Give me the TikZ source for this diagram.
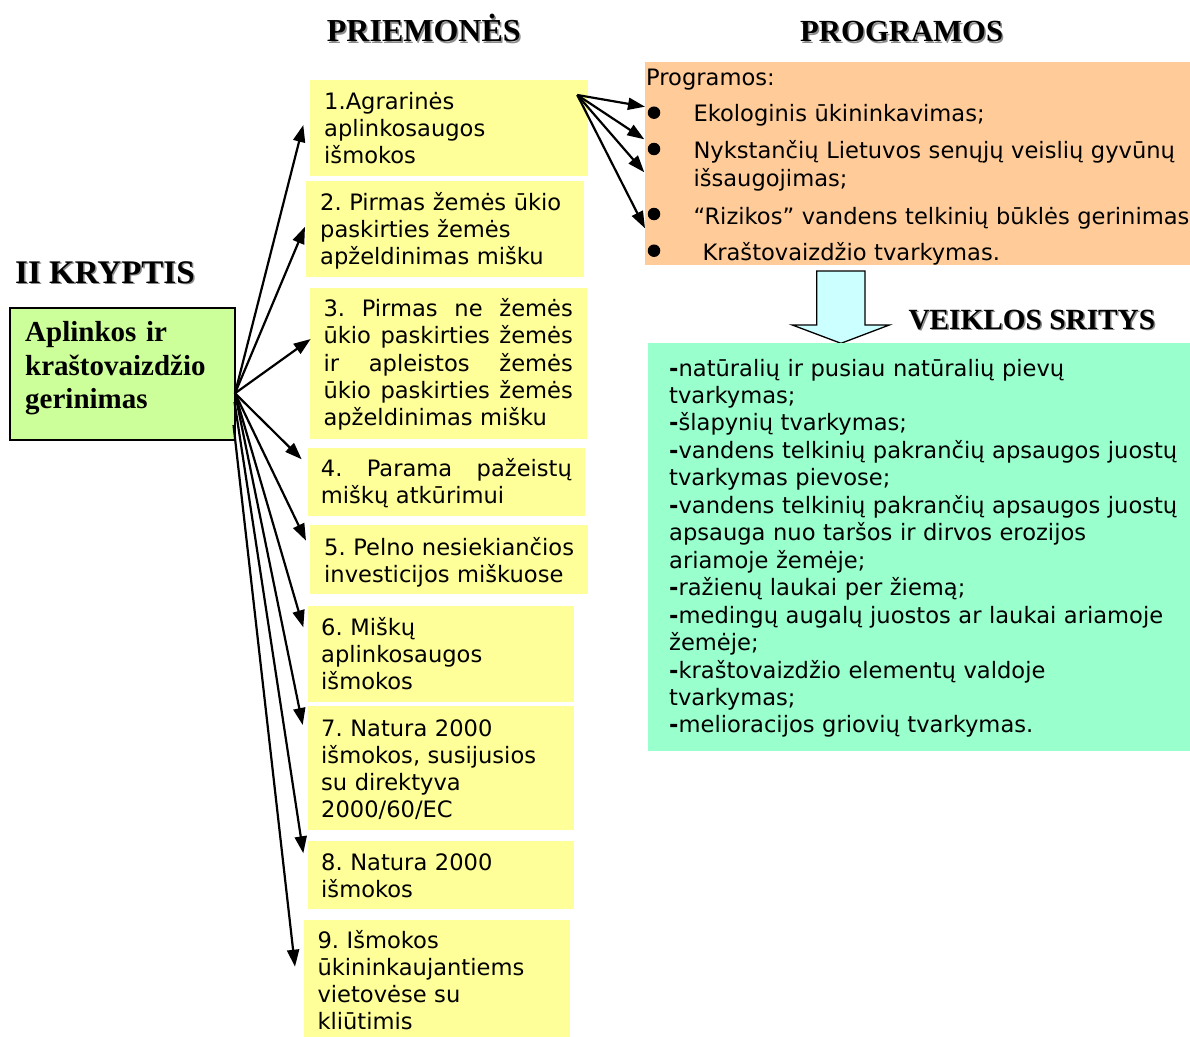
\documentclass[tikz,border=0pt]{standalone}
\usepackage{fontspec}
\setmainfont{DejaVu Sans}[WordSpace=1.1]
\newfontfamily\tnr{Liberation Serif}
\usetikzlibrary{arrows.meta}
\definecolor{yel}{HTML}{FFFF99}
\definecolor{orng}{HTML}{FFCC99}
\definecolor{mint}{HTML}{99FFCC}
\definecolor{lgreen}{HTML}{CCFF99}
\definecolor{lcyan}{HTML}{CCFFFF}
\newcommand{\jl}[2]{\leavevmode\hbox to #1{#2}}
\begin{document}
\frenchspacing
\begin{tikzpicture}[x=1pt,y=-1pt,
  txt/.style={font=\fontsize{22.6}{27.2}\selectfont, inner sep=0pt, anchor=base west, align=left, text width=#1},
  txt/.default=260pt,
  ybox/.style={fill=yel, inner sep=0pt, anchor=north west},
  arr/.style={line width=2.2pt, -{Triangle[length=17pt,width=12pt]}},
  headsh/.style={font=\tnr\bfseries\fontsize{#1}{#1}\selectfont, inner sep=0pt, anchor=base west, text=black!45},
  head/.style={font=\tnr\bfseries\fontsize{#1}{#1}\selectfont, inner sep=0pt, anchor=base west},
  bul/.style={circle, fill=black, inner sep=0pt, minimum size=12.5pt}]
\useasboundingbox (0,0) rectangle (1190,1036);
\clip (0,0) rectangle (1190,1036);

% headings with shadow
\node[headsh=32] (h1s) at (328.2,43.2) {PRIEMONĖS};
\node[head=32] (h1) at (326.7,41.7) {PRIEMONĖS};
\node[headsh=30.7] (h2s) at (801.5,43.2) {PROGRAMOS};
\node[head=30.7] (h2) at (800,41.7) {PROGRAMOS};
\node[headsh=33] (h3s) at (16.5,284.8) {II KRYPTIS};
\node[head=33] (h3) at (15,283.3) {II KRYPTIS};
\node[headsh=29.3] (h4s) at (909.8,330.8) {VEIKLOS SRITYS};
\node[head=29.3] (h4) at (908.3,329.3) {VEIKLOS SRITYS};

% green box
\node[fill=lgreen, draw=black, line width=2pt, inner sep=0pt, anchor=north west,
      minimum width=224.7pt, minimum height=132.3pt] (kr) at (9.3,306.7) {};
\node[font=\tnr\bfseries\fontsize{29}{33.3}\selectfont, inner sep=0pt, anchor=base west,
      align=left, text width=205pt] (krt) at (25,341.7) {Aplinkos ir\\kraštovaizdžio\\gerinimas};

% yellow boxes
\node[ybox, minimum width=277.7pt, minimum height=96.4pt] (b1) at (310,79.3) {};
\node[ybox, minimum width=277.3pt, minimum height=96pt] (b2) at (306,180.7) {};
\node[ybox, minimum width=277.4pt, minimum height=151.3pt] (b3) at (309.3,287.7) {};
\node[ybox, minimum width=277.7pt, minimum height=68.4pt] (b4) at (307.3,447.3) {};
\node[ybox, minimum width=277.7pt, minimum height=68.3pt] (b5) at (310,525) {};
\node[ybox, minimum width=266pt, minimum height=96pt] (b6) at (307.3,605.7) {};
\node[ybox, minimum width=266pt, minimum height=123.3pt] (b7) at (307.3,706) {};
\node[ybox, minimum width=266pt, minimum height=67.6pt] (b8) at (307.3,840.7) {};
\node[ybox, minimum width=266.7pt, minimum height=130pt] (b9) at (303.3,919.3) {};

\node[txt] (t1) at (324,109.3) {1.Agrarinės\\aplinkosaugos\\išmokos};
\node[txt] (t2) at (320,210) {2. Pirmas žemės ūkio\\paskirties žemės\\apželdinimas mišku};
\node[txt=252pt] (t3) at (323.3,316.7) {%
\jl{249.4pt}{3.\hfill Pirmas\hfill ne\hfill žemės}\\
\jl{249.4pt}{ūkio\hfill paskirties\hfill žemės}\\
\jl{249.4pt}{ir\hfill apleistos\hfill žemės}\\
\jl{249.4pt}{ūkio\hfill paskirties\hfill žemės}\\
apželdinimas mišku};
\node[txt=253pt] (t4) at (320.7,476.7) {\jl{251pt}{4.\hfill Parama\hfill pažeistų}\\miškų atkūrimui};
\node[txt] (t5) at (324,555) {5. Pelno nesiekiančios\\investicijos miškuose};
\node[txt] (t6) at (321,635) {6. Miškų\\aplinkosaugos\\išmokos};
\node[txt] (t7) at (321,736) {7. Natura 2000\\išmokos, susijusios\\su direktyva\\2000/60/EC};
\node[txt] (t8) at (321,870) {8. Natura 2000\\išmokos};
\node[txt] (t9) at (317.3,948.3) {9. Išmokos\\ūkininkaujantiems\\vietovėse su\\kliūtimis};

% programs box
\node[fill=orng, inner sep=0pt, anchor=north west, minimum width=550pt, minimum height=202.3pt] (prog) at (645,62) {};
\node[txt=300pt] (pt0) at (646,85) {Programos:};
\node[bul] (bl1) at (654,112.7) {};
\node[bul] (bl2) at (654,149) {};
\node[bul] (bl3) at (654,214) {};
\node[bul] (bl4) at (654,250.7) {};
\node[txt=500pt] (pt1) at (693.3,121.7) {Ekologinis ūkininkavimas;};
\node[txt=500pt, font=\fontsize{22.6}{28.4}\selectfont] (pt2) at (693.3,158.3) {Nykstančių Lietuvos senųjų veislių gyvūnų\\išsaugojimas;};
\node[txt=500pt] (pt3) at (693.3,224.3) {“Rizikos” vandens telkinių būklės gerinimas};
\node[txt=500pt] (pt4) at (702.3,260.7) {Kraštovaizdžio tvarkymas.};

% block arrow
\draw[fill=lcyan, draw=black, line width=1.3pt, line join=miter]
  (816.7,271) -- (865,271) -- (865,325) -- (889.3,325) -- (841,343.3)
  -- (792.3,325) -- (816.7,325) -- cycle;

% veiklos box
\node[fill=mint, inner sep=0pt, anchor=north west, minimum width=550pt, minimum height=407.7pt] (vs) at (647.3,343) {};
\node[txt=525pt, font=\fontsize{22.6}{27.46}\selectfont] (vst) at (669,376) {%
\textbf{-}natūralių ir pusiau natūralių pievų\\
tvarkymas;\\
\textbf{-}šlapynių tvarkymas;\\
\textbf{-}vandens telkinių pakrančių apsaugos juostų\\
tvarkymas pievose;\\
\textbf{-}vandens telkinių pakrančių apsaugos juostų\\
apsauga nuo taršos ir dirvos erozijos\\
ariamoje žemėje;\\
\textbf{-}ražienų laukai per žiemą;\\
\textbf{-}medingų augalų juostos ar laukai ariamoje\\
žemėje;\\
\textbf{-}kraštovaizdžio elementų valdoje\\
tvarkymas;\\
\textbf{-}melioracijos griovių tvarkymas.};

% connector points
\coordinate (ko) at (235,393.3);
\coordinate (ko2) at (234.5,402);
\coordinate (ko3) at (233.5,425);
\coordinate (a1) at (303.3,125);
\coordinate (a2) at (305,226.7);
\coordinate (a3) at (310.7,339);
\coordinate (a4) at (301.7,459.3);
\coordinate (a5) at (306,540.7);
\coordinate (a6) at (303.3,627.3);
\coordinate (a7) at (302.7,725);
\coordinate (a8) at (303.3,853.3);
\coordinate (a9) at (295,966.7);
\coordinate (po) at (577.3,95);
\coordinate (p1) at (645,106.7);
\coordinate (p2) at (644.3,139.3);
\coordinate (p3) at (644.3,172.3);
\coordinate (p4) at (645,228.3);

\foreach \t in {a1,a2,a3,a4,a5,a6,a7} \draw[arr] (ko) -- (\t);
\draw[arr] (ko2) -- (a8);
\draw[arr] (ko3) -- (a9);
\foreach \t in {p1,p2,p3,p4} \draw[arr] (po) -- (\t);
\end{tikzpicture}
\end{document}
